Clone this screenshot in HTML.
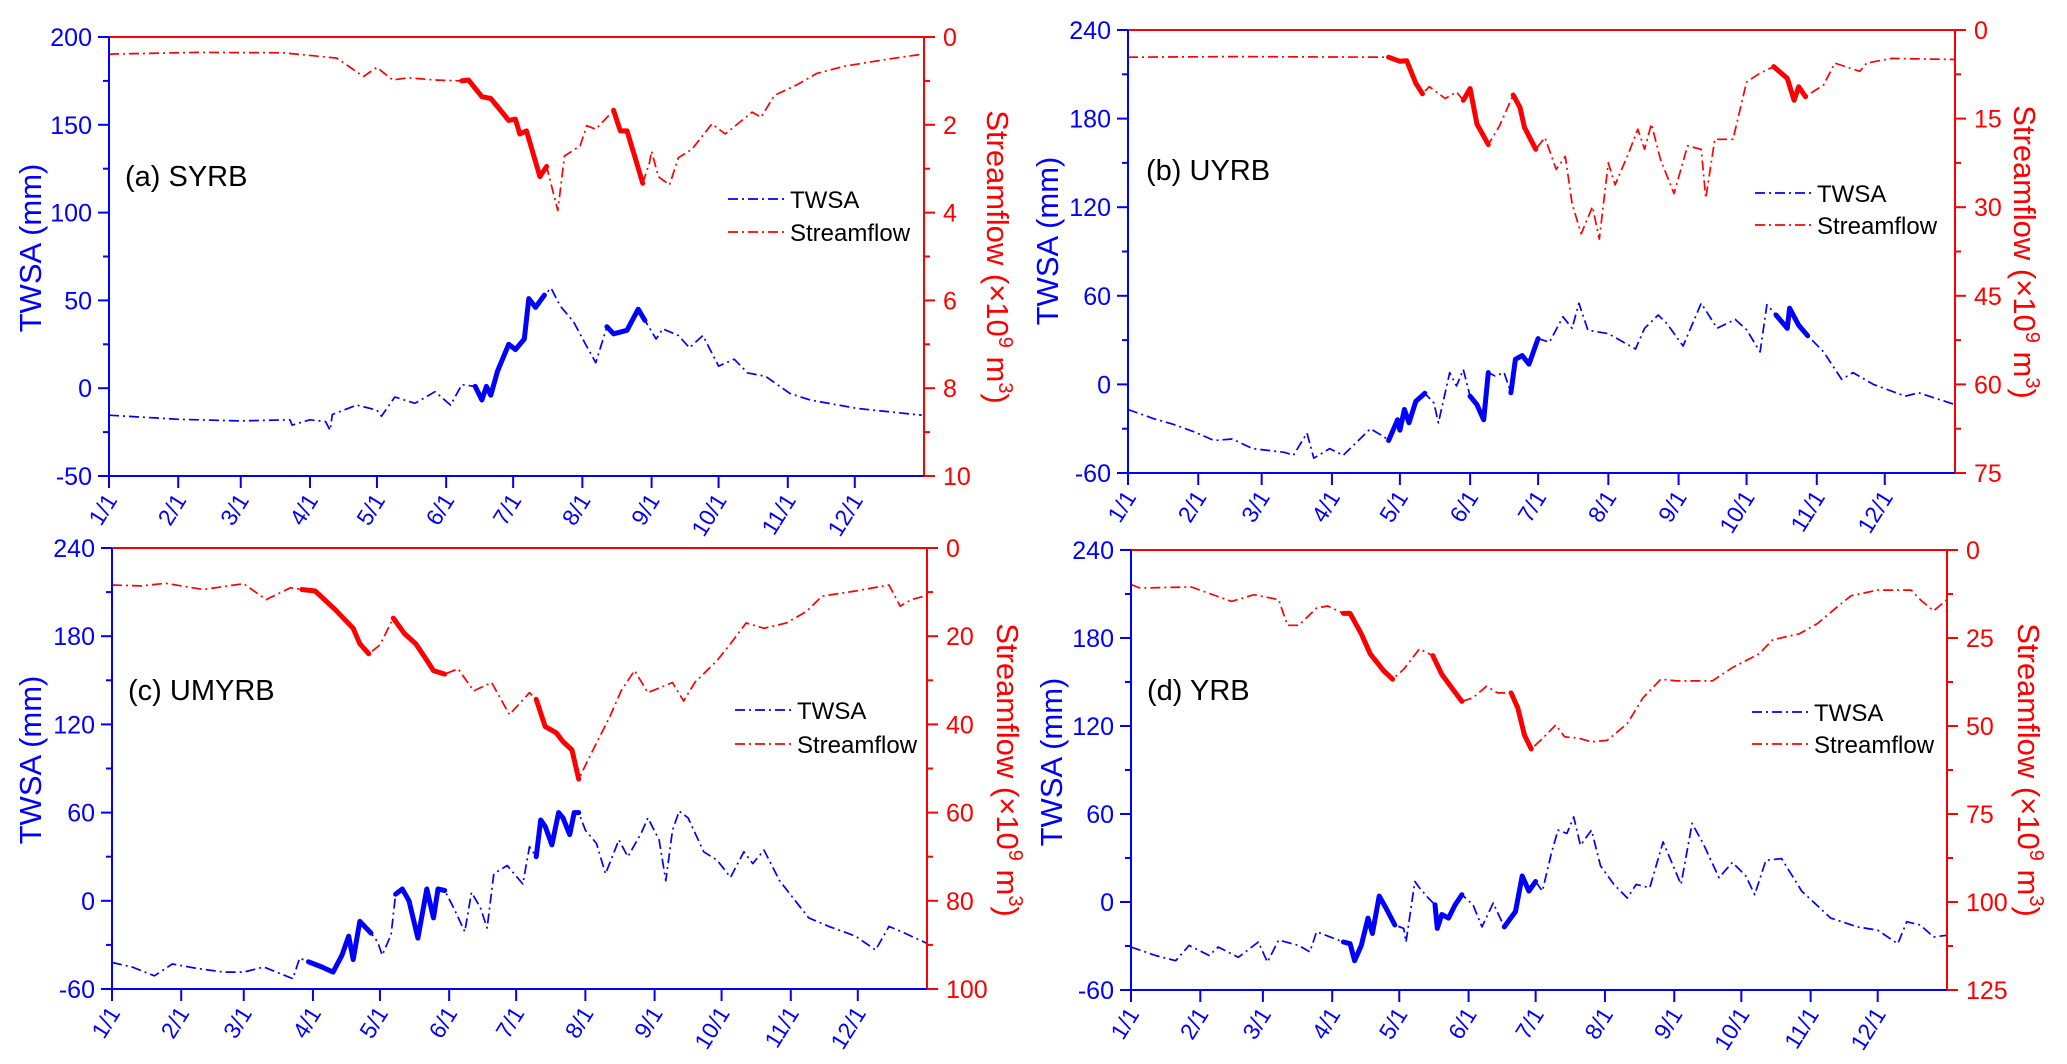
<!DOCTYPE html>
<html><head><meta charset="utf-8"><style>
html,body{margin:0;padding:0;background:#fff;}
svg{display:block;font-family:"Liberation Sans",Arial,sans-serif;}
</style></head><body>
<svg id="fig" width="2067" height="1064" viewBox="0 0 2067 1064" xmlns="http://www.w3.org/2000/svg"></svg>
<script>
// ---------- shared data ----------
const monthLabels = ["1/1","2/1","3/1","4/1","5/1","6/1","7/1","8/1","9/1","10/1","11/1","12/1"];
const monthDays = [0,31,59,90,120,151,181,212,243,273,304,334];

// ---------- panel (a) SYRB ----------
const ticksLeftA = [-50,0,50,100,150,200];
const ticksRightA = [0,2,4,6,8,10];
const twsaDayA = [0,31,59,81,82,90,97,99,100,111,120,122,128,137,146,153,158,164,167,169,171,174,179,182,186,188,191,195,198,202,208,213,218,223,226,232,237,240,245,248,255,260,266,273,280,286,294,305,314,335,364];
const twsaValA = [-15.4,-17.7,-18.6,-18,-21,-18,-19,-24,-15,-9.6,-12.5,-16,-5,-8.6,-2,-9.6,2,1,-6.7,1,-4,9.7,25,22,28,51,46,53,57,47,38,26,14.5,35,31,33,45,38.6,28,33.8,30,23,30,12.6,16.5,8.7,6.8,-3,-6.7,-11.5,-15.4];
const twsaBoldA = [[164,195],[223,240]];
const sfDayA = [0,40,78,102,114,120,127,134,146,158,161,167,171,176,179,182,184,187,193,196,201,204,211,214,218,226,229,232,235,239,242,243,246,251,255,261,270,276,288,292,298,308,317,329,347,363];
const sfValA = [0.39,0.35,0.36,0.48,0.9,0.69,0.98,0.93,0.98,1.0,0.98,1.36,1.4,1.71,1.9,1.87,2.21,2.14,3.18,2.95,3.95,2.71,2.48,2.02,2.1,1.67,2.14,2.14,2.64,3.33,2.87,2.6,3.18,3.37,2.75,2.56,1.98,2.21,1.71,1.83,1.33,1.09,0.83,0.67,0.52,0.4];
const sfBoldA = [[158,196],[226,239]];

// ---------- panel (b) UYRB ----------
const ticksLeftB = [-60,0,60,120,180,240];
const ticksRightB = [0,15,30,45,60,75];
const twsaDayB = [0,11,20,29,38,46,55,69,73,79,82,89,95,101,107,113,115,119,120,122,124,127,131,135,137,142,145,148,151,154,157,159,162,166,169,171,174,177,181,186,192,196,199,203,212,224,228,234,238,245,253,260,268,273,279,282,286,291,292,296,300,307,315,320,329,343,349,365];
const twsaValB = [-17,-23,-27,-32,-38,-37,-43.5,-46,-48,-33,-50,-43.5,-48,-39,-30,-35.5,-38,-24,-31,-17,-26,-11.5,-6,-12.6,-26,8,-1,10,-8,-13.7,-24,8,5.7,8,-5.7,17,19.5,13.7,31,28.6,45.8,38,55,36.7,34.4,24,38,47,41,26,55,38,44,37,22,54,47,38,51.6,40,33,22,3.4,8,0,-8,-5.7,-13.7];
const twsaBoldB = [[115,131],[151,159],[169,181],[285,300]];
const sfDayB = [0,46,115,120,123,127,130,133,140,145,148,151,154,159,164,170,173,175,180,184,189,193,196,200,205,208,212,215,221,225,228,231,235,241,247,253,255,259,267,273,279,285,291,294,296,299,307,312,323,326,337,365];
const sfValB = [4.6,4.5,4.6,5.3,5.2,9.0,10.8,9.6,11.6,10.5,11.9,9.9,15.9,19.4,16.2,11.0,13.1,16.5,20.2,18.2,23.6,21.4,29.4,34.5,29.9,35.4,22.5,26.2,20.8,16.8,20.2,15.9,21.9,27.7,19.6,20.2,28.5,18.5,18.5,8.8,7.3,6.2,8.2,11.9,9.6,11.3,9.3,5.6,7.0,5.6,4.8,5.0];
const sfBoldB = [[115,130],[146,159],[170,180],[284,299]];

// ---------- panel (c) UMYRB ----------
const ticksLeftC = [-60,0,60,120,180,240];
const ticksRightC = [0,20,40,60,80,100];
const twsaDayC = [0,9,19,27,38,50,59,68,81,84,88,94,99,103,106,108,111,116,119,121,125,127,130,133,137,141,144,146,149,153,158,161,165,168,171,177,184,187,190,192,194,197,200,202,205,207,209,212,217,221,227,231,237,240,245,248,251,254,258,265,271,277,283,287,292,299,312,321,333,342,348,355,365];
const twsaValC = [-42,-45,-51,-43,-46,-48.5,-48.5,-45,-53,-39,-41.5,-45,-48.5,-37,-24,-40,-14,-22,-28,-37,-23,4.5,8,0,-25.4,8,-11.6,8,7,-4.7,-21,5.7,-4.7,-18.5,18.4,24,11.4,36.8,30,55,50.6,38,60,56.4,45,60,60,48,39,18.4,41.4,30,46,56.4,41.4,13.7,48,61,56.4,33.3,27.6,16,33.3,25.3,34.5,13.7,-11.6,-17.4,-24,-33.5,-17.4,-22,-29];
const twsaBoldC = [[86,116],[127,149],[190,209]];
const sfDayC = [0,13,24,41,59,69,80,85,91,100,108,111,115,120,126,131,136,140,144,149,155,162,170,178,187,190,194,199,202,206,209,215,223,228,234,240,251,256,261,271,277,284,292,302,311,318,333,348,353,358,365];
const sfValC = [8.4,8.6,8.0,9.4,8.1,11.7,9.0,9.4,9.75,14.0,18.2,21.7,24.0,22.0,15.9,19.4,21.7,24.7,27.8,28.6,27.4,32.4,30.5,37.8,32.8,34.3,40.5,41.9,43.9,45.8,52.4,46.2,38.2,32.4,27.8,32.8,30.5,34.7,30.5,25.5,21.7,17.0,18.2,17.0,14.4,10.9,9.75,8.4,13.2,11.7,10.75];
const sfBoldC = [[85,115],[126,149],[190,209]];

// ---------- panel (d) YRB ----------
const ticksLeftD = [-60,0,60,120,180,240];
const ticksRightD = [0,25,50,75,100,125];
const twsaDayD = [0,11,20,26,35,39,48,57,61,66,75,80,83,95,98,100,103,106,108,111,114,118,122,123,127,129,133,136,137,139,142,145,148,153,157,162,167,172,175,178,181,184,188,191,195,198,201,206,210,216,222,226,232,238,246,251,256,263,269,275,279,284,291,300,313,325,334,343,347,353,359,365];
const twsaValD = [-30.7,-36.5,-40,-29.6,-36.5,-30.7,-37.7,-27.3,-41,-26,-29.6,-34,-20.3,-27.3,-28.4,-40,-29.6,-11,-21.5,4,-4,-15.7,-18,-27.3,14,9.7,2.7,-1.9,-18,-8.5,-11,-1.9,5,-1.9,-17,-0.7,-17,-6.5,17.8,7.4,14,7.4,33,49,46.7,58,38.6,49,24.7,12,2.7,12,9.7,41,12,53.6,39.7,16.6,27,17.8,5,28.4,29.6,7.4,-11,-17,-19.2,-28.4,-13.4,-15.7,-23.8,-22.7];
const twsaBoldD = [[95,118],[135,148],[167,181]];
const sfDayD = [0,4,27,45,55,66,70,75,83,88,95,98,103,107,113,117,122,129,135,139,144,148,153,159,164,170,173,176,179,184,190,194,200,206,213,222,229,237,244,251,260,269,281,287,299,307,316,322,334,349,353,359,365];
const sfValD = [9.8,10.8,10.5,14.6,12.7,14.1,21.4,21.4,16.5,15.9,18.0,18.0,23.8,29.5,34.3,36.7,33.9,28.1,30.0,35.3,39.6,43.0,42.0,38.7,40.6,40.6,44.9,52.6,56.5,53.6,49.7,53.1,53.4,54.5,54.1,49.3,42.0,36.7,37.2,37.2,37.2,33.4,29.5,25.5,23.8,20.9,16.1,13.0,11.4,11.4,14.1,17.3,14.1];
const sfBoldD = [[95,117],[135,148],[170,179]];

// ---------- rendering ----------
const svg = document.getElementById('fig');
const NS = 'http://www.w3.org/2000/svg';
const BLUE = '#0000ff', RED = '#ff0000';
function mk(tag, attrs, parent){
  const e = document.createElementNS(NS, tag);
  for (const k in attrs) e.setAttribute(k, attrs[k]);
  (parent||svg).appendChild(e);
  return e;
}

function drawPanel(p){
  const g = mk('g', {});
  
  
  const W = p.x1 - p.x0, H = p.y1 - p.y0;
  const xs = d => p.x0 + d / 365 * W;
  const yl = v => p.y1 - (v - p.lmin) / (p.lmax - p.lmin) * H;
  const yr = v => p.y0 + (v - p.rmin) / (p.rmax - p.rmin) * H;

  function series(days, vals, bold, ys, color, name){
    const pts = days.map((d,i) => xs(d).toFixed(1) + ',' + ys(vals[i]).toFixed(1)).join(' ');
    const line = mk('polyline', {points: pts, fill:'none', stroke: color, 'stroke-width': 1.7, 'stroke-dasharray': '10 4 2 4', 'stroke-linejoin':'round'}, g);
    
    
    bold.forEach((r, k) => {
      const sel = [];
      days.forEach((d,i) => { if (d >= r[0] && d <= r[1]) sel.push(xs(d).toFixed(1) + ',' + ys(vals[i]).toFixed(1)); });
      const b = mk('polyline', {points: sel.join(' '), fill:'none', stroke: color, 'stroke-width': 5, 'stroke-linejoin':'round', 'stroke-linecap':'round'}, g);
      
      
    });
  }
  series(p.sfDay, p.sfVal, p.sfBold, yr, RED, 'streamflow');
  series(p.twDay, p.twVal, p.twBold, yl, BLUE, 'twsa');

  const top = mk('line', {x1:p.x0, y1:p.y0, x2:p.x1, y2:p.y0, stroke:RED, 'stroke-width':2}, g);
   
  const right = mk('line', {x1:p.x1, y1:p.y0, x2:p.x1, y2:p.y1, stroke:RED, 'stroke-width':2}, g);
   
  const left = mk('line', {x1:p.x0, y1:p.y0, x2:p.x0, y2:p.y1, stroke:BLUE, 'stroke-width':2}, g);
   
  const bottom = mk('line', {x1:p.x0, y1:p.y1, x2:p.x1, y2:p.y1, stroke:BLUE, 'stroke-width':2}, g);
   

  p.tl.forEach((v,i) => {
    const y = yl(v);
    mk('line', {x1:p.x0-11, y1:y, x2:p.x0, y2:y, stroke:BLUE, 'stroke-width':2}, g);
    if (i < p.tl.length-1){ const ym = yl((v + p.tl[i+1])/2); mk('line', {x1:p.x0-6, y1:ym, x2:p.x0, y2:ym, stroke:BLUE, 'stroke-width':2}, g); }
    const t = mk('text', {x:p.x0-17, y:y+9, 'text-anchor':'end', 'font-size':25, fill:BLUE}, g);
    t.textContent = v;
     
  });
  p.tr.forEach((v,i) => {
    const y = yr(v);
    mk('line', {x1:p.x1, y1:y, x2:p.x1+11, y2:y, stroke:RED, 'stroke-width':2}, g);
    if (i < p.tr.length-1){ const ym = yr((v + p.tr[i+1])/2); mk('line', {x1:p.x1, y1:ym, x2:p.x1+6, y2:ym, stroke:RED, 'stroke-width':2}, g); }
    const t = mk('text', {x:p.x1+19, y:y+9, 'text-anchor':'start', 'font-size':25, fill:RED}, g);
    t.textContent = v;
     
  });
  monthDays.forEach((d,i) => {
    const x = xs(d);
    mk('line', {x1:x, y1:p.y1, x2:x, y2:p.y1+12, stroke:BLUE, 'stroke-width':2}, g);
    const tx = x + 9, ty = p.y1 + 24;
    const t = mk('text', {x:tx, y:ty, 'text-anchor':'end', 'font-size':23, fill:BLUE, transform:'rotate(-58 '+tx+' '+ty+')'}, g);
    t.textContent = monthLabels[i];
     
  });

  const lt = mk('text', {x:p.ltx, y:p.lty, 'text-anchor':'middle', 'font-size':31, fill:BLUE, transform:'rotate(-90 '+p.ltx+' '+p.lty+')', dy:'11'}, g);
  lt.textContent = 'TWSA (mm)';
   
  const rt = mk('text', {x:p.rtx, y:p.rty, 'text-anchor':'middle', 'font-size':31, fill:RED, transform:'rotate(90 '+p.rtx+' '+p.rty+')', dy:'11'}, g);
  rt.innerHTML = 'Streamflow (×10<tspan dy="-12" font-size="20">9</tspan><tspan dy="12"> m</tspan><tspan dy="-12" font-size="20">3</tspan><tspan dy="12">)</tspan>';
   

  const pl = mk('text', {x:p.lbx, y:p.lby+10, 'font-size':29, fill:'#000'}, g);
  pl.textContent = p.label;
   

  const leg = mk('g', {}, g);
   
  [['TWSA', BLUE, p.lg1],['Streamflow', RED, p.lg2]].forEach(e => {
    mk('line', {x1:p.lgx, y1:e[2], x2:p.lgx+56, y2:e[2], stroke:e[1], 'stroke-width':1.7, 'stroke-dasharray':'10 4 2 4'}, leg);
    const t = mk('text', {x:p.lgx+62, y:e[2]+9, 'font-size':24, fill:'#000'}, leg);
    t.textContent = e[0];
     
  });
}

drawPanel({id:'a', label:'(a) SYRB', x0:109, x1:924, y0:37, y1:476, lmin:-50, lmax:200, rmin:0, rmax:10,
  tl:ticksLeftA, tr:ticksRightA, twDay:twsaDayA, twVal:twsaValA, twBold:twsaBoldA, sfDay:sfDayA, sfVal:sfValA, sfBold:sfBoldA,
  ltx:30, lty:248, rtx:998, rty:257, lbx:125, lby:176, lgx:728, lg1:199, lg2:232});
drawPanel({id:'b', label:'(b) UYRB', x0:1128, x1:1955, y0:30, y1:473, lmin:-60, lmax:240, rmin:0, rmax:75,
  tl:ticksLeftB, tr:ticksRightB, twDay:twsaDayB, twVal:twsaValB, twBold:twsaBoldB, sfDay:sfDayB, sfVal:sfValB, sfBold:sfBoldB,
  ltx:1047, lty:241, rtx:2025, rty:252, lbx:1146, lby:170, lgx:1755, lg1:193, lg2:225});
drawPanel({id:'c', label:'(c) UMYRB', x0:112, x1:927, y0:548, y1:989, lmin:-60, lmax:240, rmin:0, rmax:100,
  tl:ticksLeftC, tr:ticksRightC, twDay:twsaDayC, twVal:twsaValC, twBold:twsaBoldC, sfDay:sfDayC, sfVal:sfValC, sfBold:sfBoldC,
  ltx:30, lty:760, rtx:1008, rty:770, lbx:128, lby:690, lgx:735, lg1:710, lg2:744});
drawPanel({id:'d', label:'(d) YRB', x0:1131, x1:1947, y0:550, y1:990, lmin:-60, lmax:240, rmin:0, rmax:125,
  tl:ticksLeftD, tr:ticksRightD, twDay:twsaDayD, twVal:twsaValD, twBold:twsaBoldD, sfDay:sfDayD, sfVal:sfValD, sfBold:sfBoldD,
  ltx:1051, lty:762, rtx:2029, rty:770, lbx:1147, lby:690, lgx:1752, lg1:712, lg2:744});
</script>
</body></html>
